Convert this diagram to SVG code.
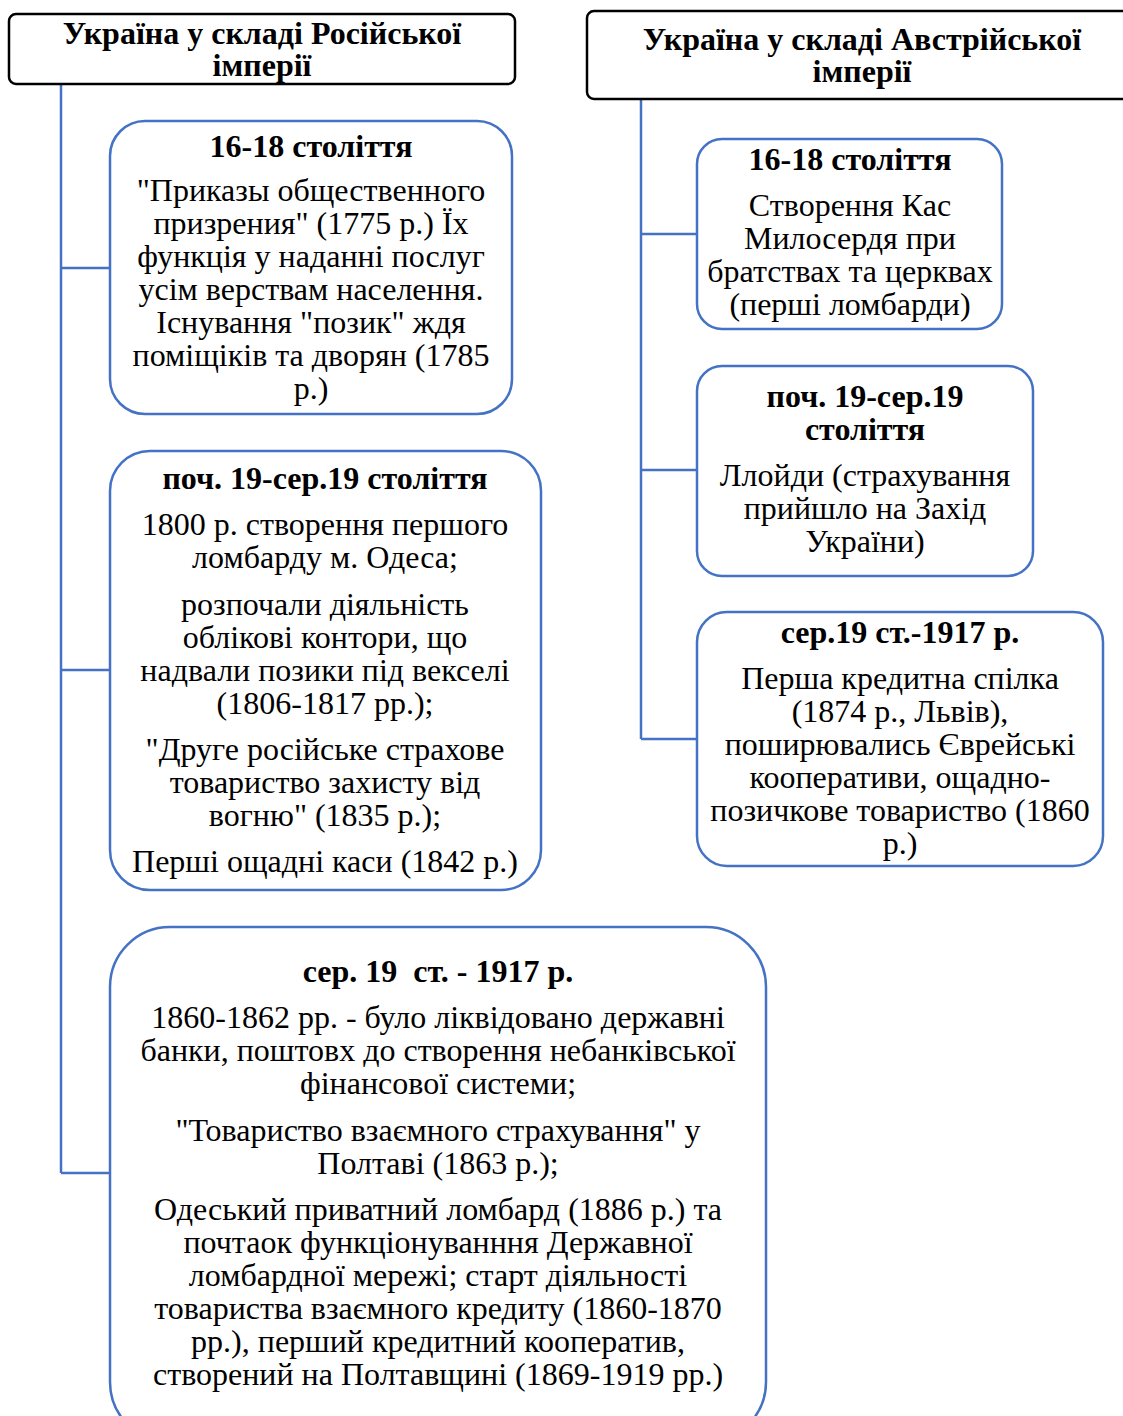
<svg xmlns="http://www.w3.org/2000/svg" width="1123" height="1416" viewBox="0 0 1123 1416">
<style>
text{font-family:"Liberation Serif","Times New Roman",serif;fill:#000;text-anchor:middle}
.h{font-size:32px;font-weight:bold}
.t{font-size:32px;font-weight:bold}
.b{font-size:32px}
.hdr{fill:#fff;stroke:#000;stroke-width:2.5}
.box{fill:#fff;stroke:#4472C4;stroke-width:2.5}
.con{fill:none;stroke:#4472C4;stroke-width:2.5}
</style>
<rect width="1123" height="1416" fill="#fff"/>
<g id="connectors">
<path class="con" d="M61 84V1173M61 268H110M61 670H110M61 1173H110"/>
<path class="con" d="M641 99V739M641 234H697M641 470H697M641 739H697"/>
</g>
<g id="header-russia">
<rect class="hdr" x="9" y="14" width="506" height="70" rx="7"/>
<text class="h" x="262" y="44">Україна у складі Російської</text>
<text class="h" x="262" y="76">імперії</text>
</g>
<g id="header-austria">
<rect class="hdr" x="587" y="11" width="560" height="88" rx="7"/>
<text class="h" x="862" y="50">Україна у складі Австрійської</text>
<text class="h" x="862" y="82">імперії</text>
</g>
<g id="r-16-18">
<rect class="box" x="110" y="121" width="402" height="293" rx="35"/>
<text class="t" x="311" y="157">16-18 століття</text>
<text class="b" x="311" y="201">"Приказы общественного</text>
<text class="b" x="311" y="234">призрения" (1775 р.) Їх</text>
<text class="b" x="311" y="267">функція у наданні послуг</text>
<text class="b" x="311" y="300">усім верствам населення.</text>
<text class="b" x="311" y="333">Існування "позик" ждя</text>
<text class="b" x="311" y="366">поміщіків та дворян (1785</text>
<text class="b" x="311" y="399">р.)</text>
</g>
<g id="r-19">
<rect class="box" x="110" y="451" width="431" height="439" rx="40"/>
<text class="t" x="325" y="489">поч. 19-сер.19 століття</text>
<text class="b" x="325" y="535">1800 р. створення першого</text>
<text class="b" x="325" y="568">ломбарду м. Одеса;</text>
<text class="b" x="325" y="615">розпочали діяльність</text>
<text class="b" x="325" y="648">облікові контори, що</text>
<text class="b" x="325" y="681">надвали позики під векселі</text>
<text class="b" x="325" y="714">(1806-1817 рр.);</text>
<text class="b" x="325" y="760">"Друге російське страхове</text>
<text class="b" x="325" y="793">товариство захисту від</text>
<text class="b" x="325" y="826">вогню" (1835 р.);</text>
<text class="b" x="325" y="872">Перші ощадні каси (1842 р.)</text>
</g>
<g id="r-19-1917">
<rect class="box" x="110" y="927" width="656" height="515" rx="60"/>
<text class="t" x="438" y="982" xml:space="preserve">сер. 19  ст. - 1917 р.</text>
<text class="b" x="438" y="1028">1860-1862 рр. - було ліквідовано державні</text>
<text class="b" x="438" y="1061">банки, поштовх до створення небанківської</text>
<text class="b" x="438" y="1094">фінансової системи;</text>
<text class="b" x="438" y="1141">"Товариство взаємного страхування" у</text>
<text class="b" x="438" y="1174">Полтаві (1863 р.);</text>
<text class="b" x="438" y="1220">Одеський приватний ломбард (1886 р.) та</text>
<text class="b" x="438" y="1253">почтаок функціонуванння Державної</text>
<text class="b" x="438" y="1286">ломбардної мережі; старт діяльності</text>
<text class="b" x="438" y="1319">товариства взаємного кредиту (1860-1870</text>
<text class="b" x="438" y="1352">рр.), перший кредитний кооператив,</text>
<text class="b" x="438" y="1385">створений на Полтавщині (1869-1919 рр.)</text>
</g>
<g id="a-16-18">
<rect class="box" x="697" y="139" width="305" height="190" rx="25"/>
<text class="t" x="850" y="170">16-18 століття</text>
<text class="b" x="850" y="216">Створення Кас</text>
<text class="b" x="850" y="249">Милосердя при</text>
<text class="b" x="850" y="282">братствах та церквах</text>
<text class="b" x="850" y="315">(перші ломбарди)</text>
</g>
<g id="a-19">
<rect class="box" x="697" y="366" width="336" height="210" rx="25"/>
<text class="t" x="865" y="407">поч. 19-сер.19</text>
<text class="t" x="865" y="440">століття</text>
<text class="b" x="865" y="486">Ллойди (страхування</text>
<text class="b" x="865" y="519">прийшло на Захід</text>
<text class="b" x="865" y="552">України)</text>
</g>
<g id="a-19-1917">
<rect class="box" x="697" y="612" width="406" height="254" rx="30"/>
<text class="t" x="900" y="643">сер.19 ст.-1917 р.</text>
<text class="b" x="900" y="689">Перша кредитна спілка</text>
<text class="b" x="900" y="722">(1874 р., Львів),</text>
<text class="b" x="900" y="755">поширювались Єврейські</text>
<text class="b" x="900" y="788">кооперативи, ощадно-</text>
<text class="b" x="900" y="821">позичкове товариство (1860</text>
<text class="b" x="900" y="854">р.)</text>
</g>
</svg>
